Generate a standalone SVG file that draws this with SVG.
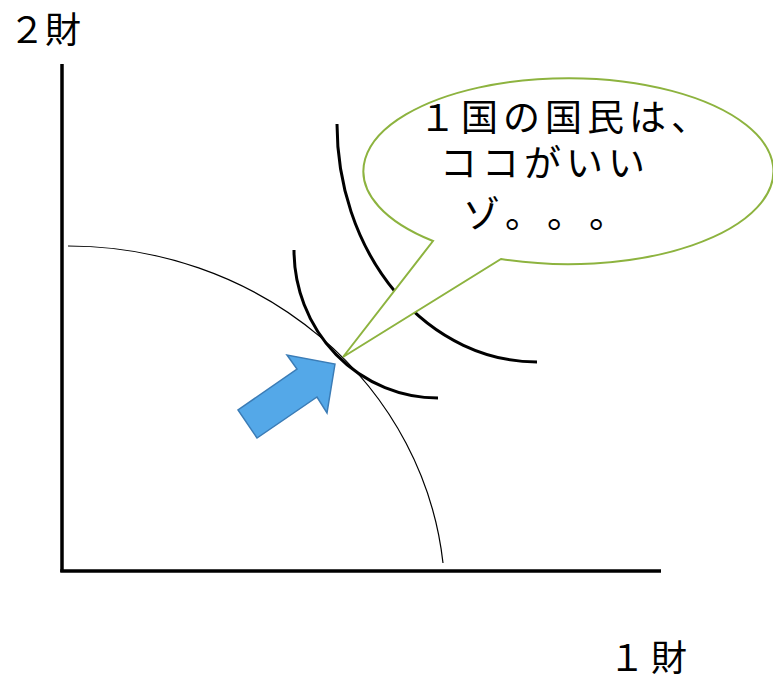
<svg xmlns="http://www.w3.org/2000/svg" width="773" height="678" viewBox="0 0 773 678">
<style>
.lbl{font-family:"Noto Sans CJK JP","Noto Sans",sans-serif;font-size:36px;fill:#000}
.say{font-family:"Noto Sans CJK JP","Noto Sans",sans-serif;font-size:37px;fill:#000}
.axis{stroke:#000;stroke-width:3.5;fill:none}
.ic{stroke:#000;stroke-width:3;fill:none}
.ppf{stroke:#000;stroke-width:1.2;fill:none}
</style>
<rect width="773" height="678" fill="#fff"/>
<g id="axes">
<line class="axis" x1="62" y1="64" x2="62" y2="572"/>
<line class="axis" x1="60.25" y1="571" x2="661" y2="571"/>
</g>
<g id="ppf"><path class="ppf" d="M68,246 A377,354 0 0 1 443,563"/></g>
<g id="ic1"><path class="ic" d="M294,250 A144,148 0 0 0 438,398"/></g>
<g id="ic2"><path class="ic" d="M337,124 A200,238 0 0 0 537,362"/></g>
<g id="callout">
<path d="M433,241 L343,357 L501,259 A205,93 0 1 0 433,241 Z" fill="#fff" stroke="#8db33f" stroke-width="2"/>
<text class="say" x="419 461 503 545 587 629 671" y="131">１国の国民は、</text>
<text class="say" x="440 482 524 566 608" y="177">ココがいい</text>
<text class="say" x="463 505 547 589" y="228">ゾ。。。</text>
</g>
<g id="arrow">
<polygon points="335,364 327,413 317,397 257,438 238,410 297,369 287,355" fill="#54a8e8" stroke="#3b7cb6" stroke-width="1.5" stroke-linejoin="miter"/>
</g>
<g id="labels">
<text class="lbl" x="9 45" y="43">２財</text>
<text class="lbl" x="609 651" y="671">１財</text>
</g>
</svg>
